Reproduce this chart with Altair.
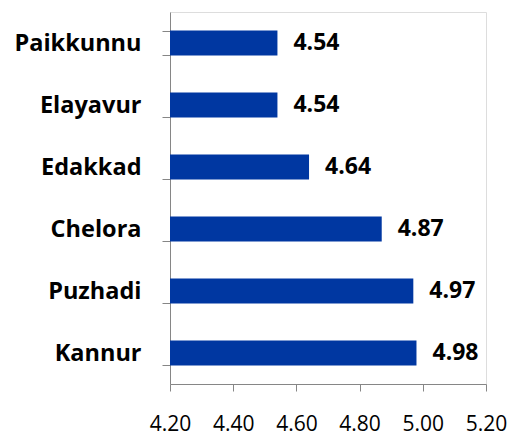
import altair as alt
import pandas as pd

places = ["Paikkunnu", "Elayavur", "Edakkad", "Chelora", "Puzhadi", "Kannur"]
scores = [4.54, 4.54, 4.64, 4.87, 4.97, 4.98]
x_ticks = [4.20, 4.40, 4.60, 4.80, 5.00, 5.20]

df = pd.DataFrame({"place": places, "score": scores})

FONT = "Open Sans"
AXIS_GRAY = "#868686"

y_enc = alt.Y(
    "place:N",
    sort=places,
    title=None,
    scale=alt.Scale(paddingInner=0.6, paddingOuter=0.3),
    axis=alt.Axis(
        tickBand="extent",
        domainColor=AXIS_GRAY,
        tickColor=AXIS_GRAY,
        tickSize=8,
        labelPadding=21,
        labelFont=FONT,
        labelFontSize=23.5,
        labelFontWeight="bold",
        labelColor="#000000",
        grid=False,
    ),
)

x_enc = alt.X(
    "score:Q",
    title=None,
    scale=alt.Scale(domain=[4.2, 5.2], zero=False, nice=False),
    axis=alt.Axis(
        values=x_ticks,
        format=".2f",
        domainColor=AXIS_GRAY,
        tickColor=AXIS_GRAY,
        tickSize=7,
        labelPadding=22,
        labelFont=FONT,
        labelFontSize=21,
        labelColor="#000000",
        grid=False,
        labelFlush=False,
    ),
)

bars = alt.Chart(df).mark_bar(color="#0037A1", clip=True).encode(
    x=x_enc,
    x2=alt.value(0),
    y=y_enc,
)

text = alt.Chart(df).mark_text(
    align="left",
    baseline="middle",
    dx=16,
    font=FONT,
    fontSize=23,
    fontWeight="bold",
    color="#000000",
).encode(
    x=alt.X("score:Q"),
    y=alt.Y("place:N", sort=places),
    text=alt.Text("score:Q", format=".2f"),
)

chart = (
    alt.layer(bars, text)
    .properties(
        width=316,
        height=372,
        autosize=alt.AutoSizeParams(type="none"),
        padding={"left": 162, "top": 4, "right": 21, "bottom": 52},
    )
    .configure_view(stroke=None)
    .configure(background="white")
)

chart.save("out.html", embed_options={"renderer": "svg", "actions": False})
